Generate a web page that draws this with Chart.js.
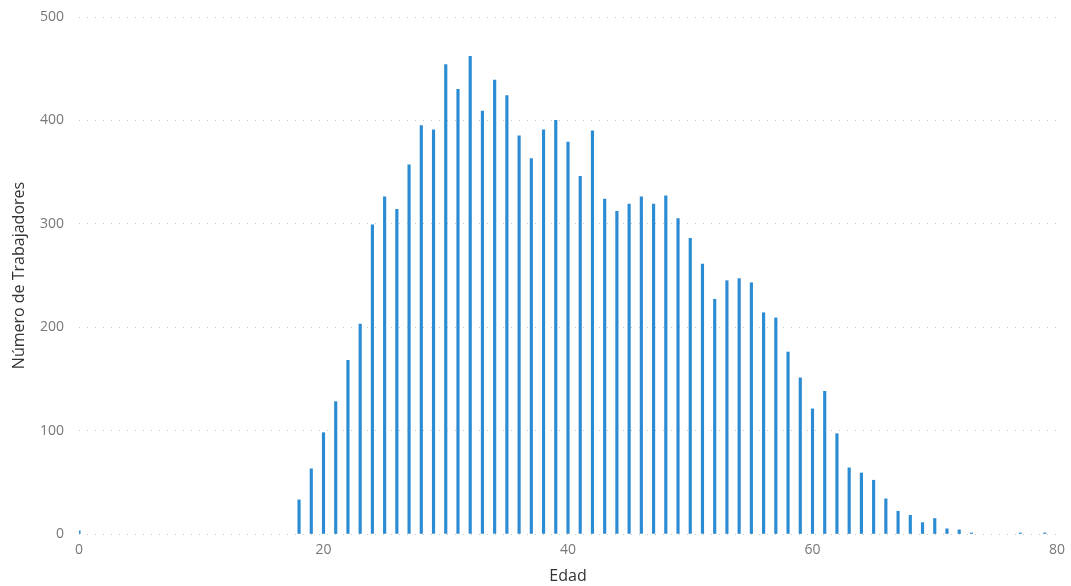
<!DOCTYPE html>
<html>
<head>
<meta charset="utf-8">
<script src="https://cdn.jsdelivr.net/npm/chart.js@4"></script>
<style>
  html, body { margin: 0; padding: 0; background: #fff; }
  #wrap { width: 1071px; height: 586px; }
</style>
</head>
<body>
<div id="wrap"><canvas id="edadChart"></canvas></div>
<script>
const ages = [0, 18, 19, 20, 21, 22, 23, 24, 25, 26, 27, 28, 29, 30, 31, 32, 33, 34, 35, 36, 37, 38, 39,
  40, 41, 42, 43, 44, 45, 46, 47, 48, 49, 50, 51, 52, 53, 54, 55, 56, 57, 58, 59,
  60, 61, 62, 63, 64, 65, 66, 67, 68, 69, 70, 71, 72, 73, 77, 79];
const workers = [3, 33, 63, 98, 128, 168, 203, 299, 326, 314, 357, 395, 391, 454, 430, 462, 409, 439, 424, 385, 363, 391, 400,
  379, 346, 390, 324, 312, 319, 326, 319, 327, 305, 286, 261, 227, 245, 247, 243, 214, 209, 176, 151,
  121, 138, 97, 64, 59, 52, 34, 22, 18, 11, 15, 5, 4, 1, 1, 1];
const xTicks = [0, 20, 40, 60, 80];
const yTicks = [0, 100, 200, 300, 400, 500];

document.addEventListener("DOMContentLoaded", function () {
  const ctx = document.getElementById("edadChart").getContext("2d");
  const fontFamily = "'Open Sans', 'Noto Sans', sans-serif";

  new Chart(ctx, {
    type: "bar",
    data: {
      datasets: [
        {
          label: "Número de Trabajadores",
          data: ages.map((a, i) => ({ x: a, y: workers[i] })),
          backgroundColor: "#2b8bd3",
          borderWidth: 0,
          barThickness: 2.5,
        },
      ],
    },
    options: {
      responsive: true,
      maintainAspectRatio: false,
      animation: false,
      layout: { padding: { top: 17, right: 14, left: 0, bottom: 0 } },
      plugins: {
        legend: { display: false },
        tooltip: { enabled: false },
      },
      scales: {
        x: {
          type: "linear",
          offset: false,
          min: xTicks[0],
          max: xTicks[xTicks.length - 1],
          afterBuildTicks: (scale) => { scale.ticks = xTicks.map((v) => ({ value: v })); },
          afterFit: (scale) => {
            scale.height = 52;
            scale.paddingLeft = 0;
            scale.paddingRight = 0;
          },
          grid: { display: false, drawTicks: false, offset: false },
          border: { display: false },
          ticks: { color: "#777", font: { family: fontFamily, size: 14 }, padding: 8 },
          title: {
            display: true,
            text: "Edad",
            color: "#333",
            font: { family: fontFamily, size: 16 },
            padding: { top: 0, bottom: 0 },
          },
        },
        y: {
          min: yTicks[0],
          max: yTicks[yTicks.length - 1],
          afterBuildTicks: (scale) => { scale.ticks = yTicks.map((v) => ({ value: v })); },
          afterFit: (scale) => {
            scale.width = 79;
            scale.paddingTop = 0;
            scale.paddingBottom = 0;
          },
          grid: { color: "#c8c8c8", drawTicks: false, lineWidth: 1 },
          border: { display: false, dash: [1, 7] },
          ticks: { color: "#777", font: { family: fontFamily, size: 14 }, padding: 15 },
          title: {
            display: true,
            text: "Número de Trabajadores",
            color: "#333",
            font: { family: fontFamily, size: 16 },
            padding: { top: 10, bottom: 0 },
          },
        },
      },
    },
  });
});
</script>
</body>
</html>
